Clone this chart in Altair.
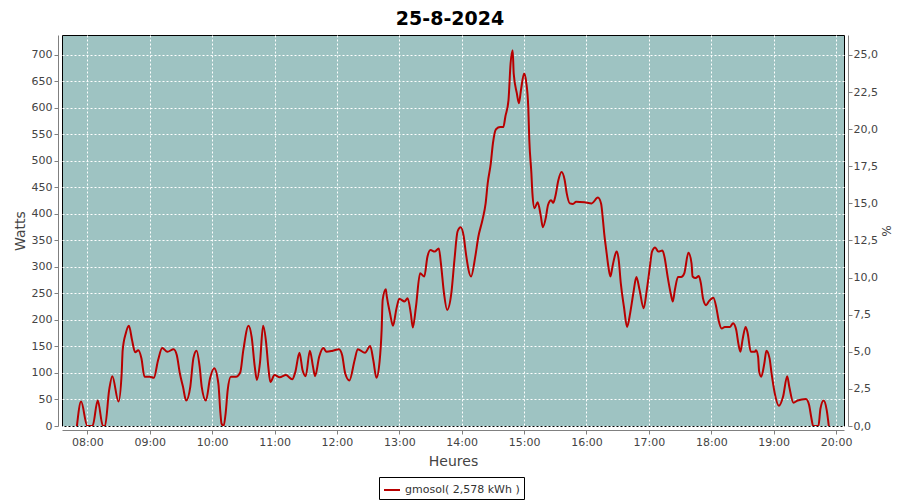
import altair as alt
import pandas as pd

# --- data (time of day, power in W) ---
times = [
    "07:50", "07:54", "08:00", "08:05", "08:10", "08:15", "08:17", "08:21", "08:24", "08:30",
    "08:33", "08:34", "08:37", "08:40", "08:43", "08:46", "08:49", "08:52", "08:55",
    "09:00", "09:04", "09:08", "09:12", "09:17", "09:23", "09:26", "09:29", "09:32", "09:35",
    "09:39", "09:42", "09:45", "09:48", "09:50", "09:54", "09:58",
    "10:02", "10:06", "10:08", "10:09", "10:11", "10:13", "10:15", "10:18", "10:23", "10:27",
    "10:30", "10:35", "10:38", "10:41", "10:43", "10:46", "10:49", "10:52", "10:54", "10:56",
    "11:00", "11:05", "11:11", "11:17", "11:20", "11:24", "11:27", "11:30", "11:34", "11:37",
    "11:39", "11:43", "11:47", "11:50", "11:56",
    "12:02", "12:05", "12:08", "12:12", "12:17", "12:20", "12:27", "12:32", "12:35", "12:38",
    "12:41", "12:43", "12:44", "12:47", "12:48", "12:51", "12:54", "12:57",
    "13:00", "13:05", "13:08", "13:11", "13:13", "13:16", "13:20", "13:24", "13:27", "13:30",
    "13:34", "13:38", "13:40", "13:43", "13:46", "13:50", "13:53", "13:56", "13:59",
    "14:02", "14:04", "14:09", "14:13", "14:16", "14:20", "14:23", "14:25", "14:28", "14:30",
    "14:33", "14:37", "14:40", "14:42", "14:45", "14:47", "14:49", "14:50", "14:53", "14:55",
    "14:57",
    "15:00", "15:02", "15:04", "15:05", "15:07", "15:08", "15:10", "15:13", "15:16", "15:18",
    "15:21", "15:23", "15:26", "15:28", "15:30", "15:33", "15:36", "15:39", "15:41", "15:44",
    "15:47", "15:50", "15:58",
    "16:05", "16:11", "16:14", "16:16", "16:17", "16:19", "16:21", "16:23", "16:25", "16:27",
    "16:29", "16:31", "16:33", "16:36", "16:39", "16:42", "16:45", "16:48", "16:51", "16:55",
    "16:58",
    "17:01", "17:03", "17:06", "17:09", "17:13", "17:15", "17:18", "17:21", "17:23", "17:25",
    "17:28", "17:31", "17:34", "17:38", "17:41", "17:42", "17:45", "17:48", "17:50", "17:52",
    "17:55", "17:58",
    "18:02", "18:05", "18:07", "18:10", "18:13", "18:18", "18:21", "18:24", "18:26", "18:28",
    "18:30", "18:33", "18:35", "18:38", "18:42", "18:43", "18:45", "18:46", "18:48", "18:51",
    "18:53", "18:56", "18:58",
    "19:01", "19:05", "19:09", "19:13", "19:15", "19:19", "19:23", "19:31", "19:34", "19:36",
    "19:38", "19:43", "19:45", "19:48", "19:51", "19:53",
]
watts = [
    0, 46, 0, 0, 48, 0, 0, 68, 94, 46,
    99, 143, 175, 189, 162, 139, 143, 128, 93,
    93, 91, 124, 147, 140, 145, 134, 99, 74, 48,
    74, 128, 142, 112, 74, 48, 90,
    109, 80, 24, 5, 0, 24, 68, 93, 93, 101,
    143, 189, 168, 112, 87, 119, 189, 156, 112, 83,
    96, 92, 96, 88, 102, 138, 105, 94, 142, 112,
    94, 131, 147, 140, 142,
    145, 134, 99, 86, 124, 145, 138, 151, 124, 91,
    121, 181, 238, 258, 244, 213, 189, 219,
    240, 235, 241, 213, 186, 225, 288, 282, 319, 332,
    329, 335, 307, 250, 219, 250, 313, 367, 375,
    357, 326, 282, 319, 357, 389, 420, 458, 496, 533,
    560, 564, 564, 584, 615, 684, 709, 665, 628, 609,
    634,
    665, 649, 602, 540, 477, 439, 411, 422, 397, 375,
    394, 417, 426, 421, 433, 464, 479, 464, 439, 420,
    419, 423, 422,
    420, 431, 420, 385, 364, 332, 301, 282, 301, 319,
    329, 313, 269, 225, 187, 213, 250, 281, 257, 222,
    257,
    301, 329, 337, 329, 331, 319, 282, 250, 235, 257,
    281, 281, 288, 327, 307, 282, 279, 283, 269, 241,
    228, 236,
    242, 222, 200, 184, 187, 187, 194, 181, 156, 140,
    162, 187, 175, 140, 140, 143, 131, 103, 93, 118,
    142, 128, 99,
    62, 38, 55, 94, 74, 44, 48, 51, 40, 18,
    0, 0, 33, 48, 30, 0,
]
series_label = "gmosol( 2,578 kWh )"
hour_ticks = list(range(8, 21))
watt_ticks = list(range(0, 701, 50))
pct_ticks = [0, 2.5, 5, 7.5, 10, 12.5, 15, 17.5, 20, 22.5, 25]

assert len(times) == len(watts)


def to_hours(s):
    h, m = s.split(":")
    return int(h) + int(m) / 60.0


df = pd.DataFrame({
    "h": [to_hours(t) for t in times],
    "W": watts,
    "serie": series_label,
})
df["pct"] = df["W"] / 28.0

X_MIN, X_MAX = 7.594, 20.127
Y_MAX = 737.7
P_MAX = Y_MAX / 28.0

GRID = dict(grid=True, gridColor="white", gridDash=[2, 2], gridWidth=1, gridOpacity=1)

x_enc = alt.X(
    "h:Q",
    scale=alt.Scale(domain=[X_MIN, X_MAX], nice=False, zero=False),
    axis=alt.Axis(
        values=hour_ticks,
        labelExpr="(datum.value < 10 ? '0' : '') + datum.value + ':00'",
        title="Heures",
        offset=4,
        titlePadding=7,
        **GRID,
    ),
)

base = alt.Chart(df)

line = base.mark_line(strokeWidth=2, interpolate="monotone", clip=True).encode(
    x=x_enc,
    y=alt.Y(
        "W:Q",
        scale=alt.Scale(domain=[0, Y_MAX], nice=False),
        axis=alt.Axis(values=watt_ticks, title="Watts", offset=4, format="d", titlePadding=4, **GRID),
    ),
    color=alt.Color(
        "serie:N",
        scale=alt.Scale(domain=[series_label], range=["#b80000"]),
        legend=alt.Legend(
            title=None,
            orient="none",
            legendX=317,
            legendY=442,
            strokeColor="black",
            padding=4,
            symbolType="stroke",
            symbolSize=256,
            symbolStrokeWidth=2,
            labelFont="DejaVu Sans",
            labelFontSize=11,
            labelColor="#333333",
            labelOffset=4,
            labelLimit=400,
        ),
    ),
)

right = base.mark_line(opacity=0).encode(
    x=x_enc,
    y=alt.Y(
        "pct:Q",
        scale=alt.Scale(domain=[0, P_MAX], nice=False),
        axis=alt.Axis(
            orient="right",
            values=pct_ticks,
            labelExpr="replace(format(datum.value, '.1f'), '.', ',')",
            labelPadding=1,
            title="%",
            titleFontSize=12,
            offset=4,
            grid=False,
            titlePadding=1,
        ),
    ),
)

chart = (
    alt.layer(line, right)
    .resolve_scale(y="independent")
    .properties(
        width=782,
        height=391,
        background="white",
        autosize=alt.AutoSizeParams(type="none"),
        padding={"left": 54, "top": 27, "right": 48, "bottom": 74},
        title=alt.TitleParams(
            "25-8-2024",
            font="DejaVu Sans",
            fontSize=19,
            fontWeight="bold",
            color="black",
            anchor="middle",
            offset=6,
            dx=-3,
        ),
    )
    .configure_view(fill="#9ec3c2", stroke="black", strokeWidth=1)
    .configure_axis(
        domainColor="#808080",
        tickColor="#808080",
        tickSize=4,
        labelColor="#444444",
        labelFont="DejaVu Sans",
        labelFontSize=11,
        labelPadding=2,
        titleFont="DejaVu Sans",
        titleFontSize=14,
        titleFontWeight="normal",
        titleColor="#444444",
    )
)

chart.save("out.html", embed_options={"renderer": "svg", "actions": False})
